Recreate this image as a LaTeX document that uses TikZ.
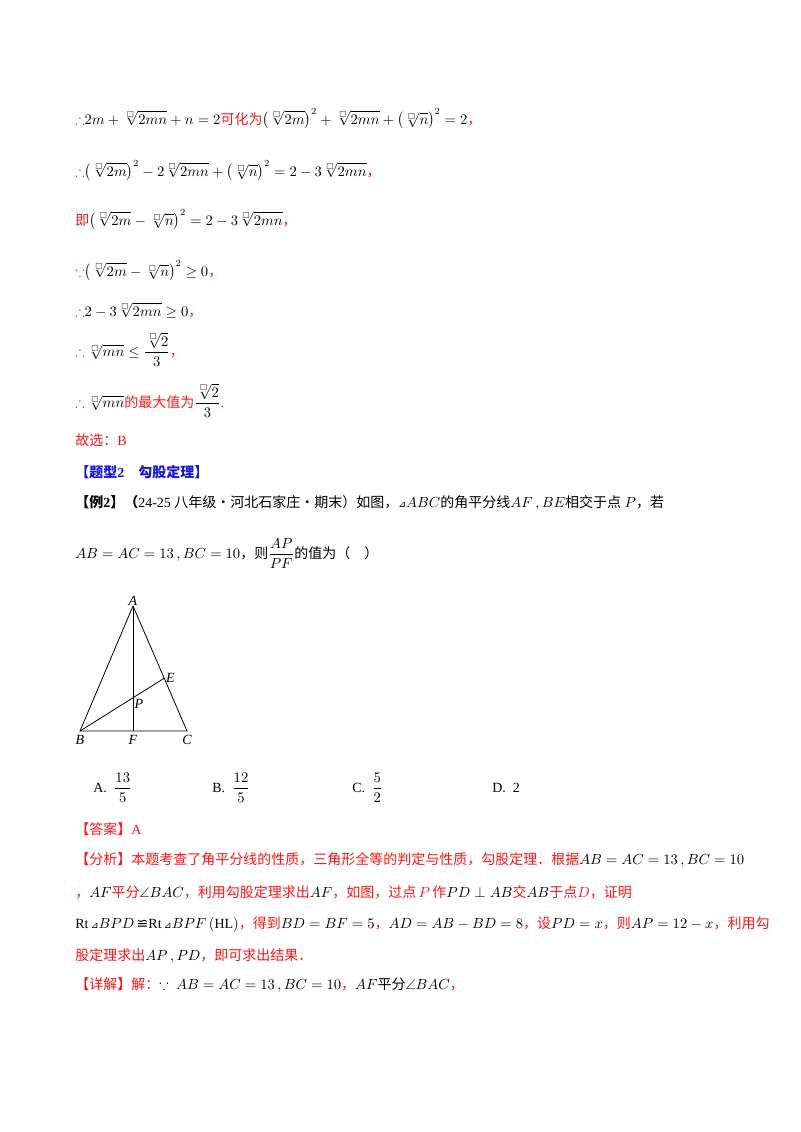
\documentclass[tikz,border=0pt]{standalone}
\usepackage{amsmath,amssymb}
\usepackage{fontspec}
\setmainfont{Liberation Serif}
\newfontfamily\cjk{Noto Sans CJK SC}
\newfontfamily\dvs{DejaVu Sans}
\definecolor{rd}{RGB}{255,20,20}
\definecolor{bl}{RGB}{20,20,230}
\newcommand{\bx}{\scriptscriptstyle\square}
\newcommand{\rt}[1]{\sqrt[\bx]{#1}}
\newcommand{\C}[1]{{\cjk #1}}
\newcommand{\tri}{{\dvs\scriptsize ⊿}}
\newcommand{\R}[1]{\textcolor{rd}{#1}}
\tikzset{ln/.style={anchor=base west,inner sep=0pt,font=\fontsize{10.5}{12}\selectfont},
lab/.style={inner sep=1pt,font=\fontsize{10.5}{12}\selectfont\itshape}}
\begin{document}
\begin{tikzpicture}[x=0.75pt,y=-0.75pt]
\useasboundingbox (0,0) rectangle (800,1132);
\node[ln] (l1) at (75,124) {\R{$\therefore$}$2m+\rt{2mn}+n=2$\R{\C{可化为}}$\bigl(\rt{2m}\bigr)^2+\rt{2mn}+\bigl(\rt{n}\bigr)^2=2$\R{\C{，}}};
\node[ln] (l2) at (75,176) {\R{$\therefore$}$\bigl(\rt{2m}\bigr)^2-2\rt{2mn}+\bigl(\rt{n}\bigr)^2=2-3\rt{2mn}$\R{\C{，}}};
\node[ln] (l3) at (75,225) {\R{\C{即}}$\bigl(\rt{2m}-\rt{n}\bigr)^2=2-3\rt{2mn}$\R{\C{，}}};
\node[ln] (l4) at (75,276) {\R{$\because$}$\bigl(\rt{2m}-\rt{n}\bigr)^2\geq 0$\R{\C{，}}};
\node[ln] (l5) at (75,316) {\R{$\therefore$}$2-3\rt{2mn}\geq 0$\R{\C{，}}};
\node[ln] (l6) at (75,356) {\R{$\therefore$}$\,\rt{mn}\leq\dfrac{\rt{2}}{3}$\R{\C{，}}};
\node[ln] (l7) at (75,407) {\R{$\therefore$}$\,\rt{mn}$\R{\C{的最大值为}}$\dfrac{\rt{2}}{3}$\R{.}};
\node[ln] (l8) at (75,445) {\R{\C{故选：}B}};
\node[ln] (l9) at (75,477) {\textcolor{bl}{\bfseries\C{\bfseries【题型}2\quad\C{\bfseries 勾股定理】}}};
\node[ln] (l10) at (75,507) {\C{\bfseries【例}\textbf{2}\C{\bfseries】（}24-25 \C{八年级·河北石家庄·期末）如图，}\tri$ABC$\C{的角平分线}$AF\,,BE$\C{相交于点} $P$\C{，若}};
\node[ln] (l11) at (75,558) {$AB=AC=13\,,BC=10$\C{，则}$\dfrac{AP}{PF}$\C{的值为（\quad）}};
% triangle
\coordinate (A) at (133,606);
\coordinate (B) at (80,731);
\coordinate (C) at (187,731);
\coordinate (F) at (133,731);
\coordinate (E) at (164.5,678);
\coordinate (P) at (133,698);
\draw[line width=0.6pt] (A) -- (B) -- (C) -- cycle;
\draw[line width=0.6pt] (A) -- (F);
\draw[line width=0.6pt] (B) -- (E);
\node[lab,anchor=north] at ([yshift=-2pt]B) {B};
\node[lab,anchor=north] at ([yshift=-2pt]F) {F};
\node[lab,anchor=north] at ([yshift=-2pt]C) {C};
\node[lab,anchor=south] at ([yshift=-1pt]A) {A};
\node[lab,anchor=west] at (E) {E};
\node[lab,anchor=north west] at (P) {P};
\node[ln] (oA) at (93,792) {A.\enspace$\dfrac{13}{5}$};
\node[ln] (oB) at (212,792) {B.\enspace$\dfrac{12}{5}$};
\node[ln] (oC) at (352,792) {C.\enspace$\dfrac{5}{2}$};
\node[ln] (oD) at (492,792) {D.\enspace2};
\node[ln] (a1) at (75,834) {\R{\C{【答案】}A}};
\node[ln] (a2) at (75,864) {\R{\C{【分析】本题考查了角平分线的性质，三角形全等的判定与性质，勾股定理．根据}}$AB=AC=13\,,BC=10$};
\node[ln] (a3) at (75,897) {\R{\C{，}}$AF$\R{\C{平分}}$\angle BAC$\R{\C{，利用勾股定理求出}}$AF$\R{\C{，如图，过点}\,$P$\,\C{作}}$PD\perp AB$\R{\C{交}}$AB$\R{\C{于点}$D$\C{，证明}}};
\node[ln] (a4) at (75,928) {Rt\,\tri$BPD$\,{\dvs ≌}Rt\,\tri$BPF\left(\mathrm{HL}\right)$\R{\C{，得到}}$BD=BF=5$\R{\C{，}}$AD=AB-BD=8$\R{\C{，设}}$PD=x$\R{\C{，则}}$AP=12-x$\R{\C{，利用勾}}};
\node[ln] (a5) at (75,960) {\R{\C{股定理求出}}$AP\,,PD$\R{\C{，即可求出结果．}}};
\node[ln] (a6) at (75,989) {\R{\C{【详解】解：}}$\because\ AB=AC=13\,,BC=10$\R{\C{，}}$AF$\C{平分}$\angle BAC$\R{\C{，}}};
\end{tikzpicture}
\end{document}
